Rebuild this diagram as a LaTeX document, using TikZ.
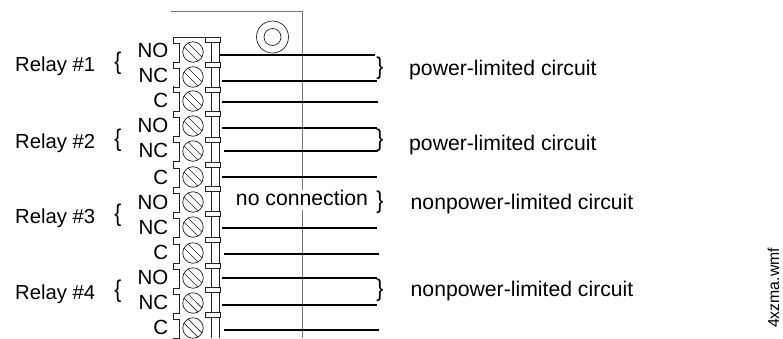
\documentclass[tikz,border=0pt]{standalone}
\usepackage{fontspec}
\usetikzlibrary{calc}
\setmainfont{Liberation Sans}
\definecolor{panelgray}{HTML}{777777}
\definecolor{partgray}{HTML}{222222}
\tikzset{
  lbl/.style={inner sep=0pt,font=\fontsize{21.2}{24}\selectfont,text=black},
  lblleft/.style={lbl,anchor=base west},
  lblsmall/.style={lblleft,font=\fontsize{20.3}{24}\selectfont},
  lblright/.style={lbl,anchor=base east,font=\fontsize{20.5}{24}\selectfont},
  wire/.style={line width=1.5pt,black},
  panel/.style={line width=1pt,panelgray},
  part/.style={line width=0.7pt,partgray},
  screw/.style={circle,draw=partgray,line width=0.7pt,minimum size=20.5pt,inner sep=0pt},
  barcap/.style={rectangle,draw=partgray,line width=0.7pt,fill=white,minimum width=14.5pt,minimum height=4.5pt,inner sep=0pt},
  bracetext/.style={inner sep=0pt,text=black,font=\fontsize{21}{24}\selectfont},
}
\begin{document}
\begin{tikzpicture}[x=1pt,y=-1pt]
\path[use as bounding box] (0,0) rectangle (783,338);
% panel
\draw[panel] (171,11) -- (302,11) -- (302,190);
\draw[panel] (302,210) -- (302,338);
% mounting hole
\node[circle,draw=partgray,line width=0.7pt,minimum size=32pt,inner sep=0pt] (holeout) at (272.5,37) {};
\node[circle,draw=partgray,line width=0.7pt,minimum size=17pt,inner sep=0pt] (holein) at (272.5,37) {};
% terminal block top and bars
\draw[part] (173,37.5) -- (219,37.5);
\draw[part] (211,40) -- (211,338) (219,40) -- (219,338);
% notched outline and screws
\foreach \n/\y in {1/52,2/77,3/101,4/126,5/151,6/177,7/202,8/227,9/253,10/278,11/303,12/328}{
  \draw[part] (173,\y-15) -- (173,\y-9) -- (179,\y-9) -- (179,\y+10) -- (173,\y+10);
  \node[screw] (s\n) at (193,\y) {};
  \draw[part] ($(s\n.135)+(2.5,-1.5)$) -- ($(s\n.-45)+(1.5,-2.5)$);
  \draw[part] ($(s\n.135)+(-1.5,2.5)$) -- ($(s\n.-45)+(-2.5,1.5)$);
}
% caps
\foreach \n/\y in {1/40,2/65,3/90,4/114,5/140,6/165,7/189,8/214,9/240,10/266,11/290,12/315}{
  \node[barcap] (c\n) at (213,\y) {};
}
% wires
\foreach \n/\y/\a/\b in {w1/55/220/375,w2/81/222/377,w3/102/222/378,w4/128/222/377,w5/151/224/378,w6/177/222/377,w8/228/222/377,w9/254/224/379,w10/278/222/377,w11/305/222/377,w12/330/224/379}{
  \coordinate (\n a) at (\a,\y);
  \coordinate (\n b) at (\b,\y);
  \draw[wire] (\n a) -- (\n b);
}
% terminal labels
\foreach \t/\y in {NO/57,NC/82,C/107,NO/132,NC/157,C/184,NO/209,NC/234,C/259,NO/284,NC/309,C/334}{
  \node[lblright] at (168.5,\y) {\t};
}
% relay labels
\node[lblsmall] (r1) at (15,71) {Relay \#1};
\node[lblsmall] (r2) at (15,148) {Relay \#2};
\node[lblsmall] (r3) at (15,223) {Relay \#3};
\node[lblsmall] (r4) at (15,299) {Relay \#4};
\foreach \y in {63.5,140,215,291}{ \node[bracetext,yscale=1.15] at (118,\y) {\{}; }
% right braces
\foreach \n/\y in {1/68,2/140,3/202,4/290}{ \node[bracetext,yscale=1.15] (b\n) at (380,\y) {\}}; }
% right labels
\node[lblleft] (t1) at (409,75) {power-limited circuit};
\node[lblleft] (t2) at (409,150) {power-limited circuit};
\node[lblleft] (t3) at (410.5,209) {nonpower-limited circuit};
\node[lblleft] (t4) at (410.5,296.5) {nonpower-limited circuit};
\node[lbl,anchor=base] (nc) at (302,205) {no connection};
\node[inner sep=0pt,rotate=90,anchor=base west,font=\fontsize{15.8}{18}\selectfont] (file) at (779,328) {4xzma.wmf};
\end{tikzpicture}
\end{document}
